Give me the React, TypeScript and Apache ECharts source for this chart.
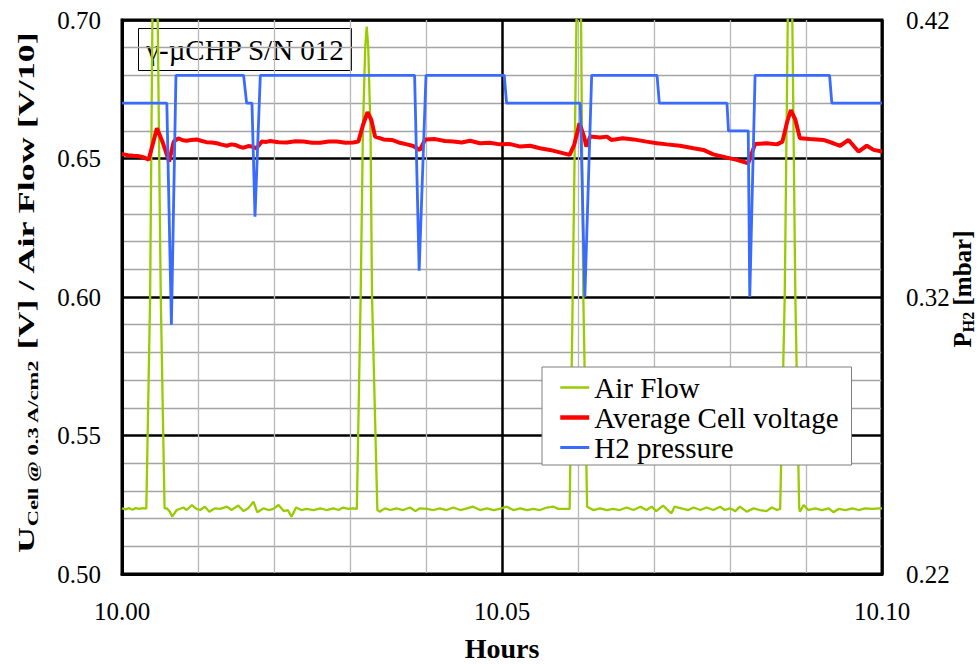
import React, { useEffect, useRef } from "react";
import * as echarts from "echarts";

// Time axis (hours) and the two value axes
const hourRange = [10.0, 10.1];
const hourStep = 0.05;
const voltRange = [0.5, 0.7];
const voltStep = 0.05;
const pressureRange = [0.22, 0.42];
const pressureStep = 0.02;
const pressureLabels = [0.22, 0.32, 0.42];

const seriesNames = ["Air Flow", "Average Cell voltage", "H2 pressure"];
const seriesColors = ["#99cc00", "#ff0000", "#3a6bff"];
const seriesWidths = [2.3, 4, 2.8];

// Air flow [V/10], left axis
const airFlow: [number, number][] = [
  [10.0, 0.5237], [10.0005, 0.5233], [10.0009, 0.5238], [10.0014, 0.5232], [10.0018, 0.5238],
  [10.0023, 0.5235], [10.0027, 0.5238], [10.0032, 0.5236],
  [10.0037, 0.6], [10.004, 0.7], [10.0043, 0.72], [10.0047, 0.7], [10.0051, 0.6], [10.0056, 0.5237],
  [10.0059, 0.5237], [10.0063, 0.5225], [10.0066, 0.5207], [10.0072, 0.5231], [10.0081, 0.524],
  [10.0085, 0.5231], [10.0092, 0.5249], [10.0098, 0.5235], [10.0103, 0.5231], [10.0109, 0.5243],
  [10.0115, 0.5225], [10.0122, 0.5237], [10.0129, 0.5235], [10.0138, 0.5243], [10.0144, 0.5231],
  [10.0153, 0.5247], [10.016, 0.5227], [10.0166, 0.5237], [10.0173, 0.5261], [10.0178, 0.5223],
  [10.0186, 0.5237], [10.0193, 0.5231], [10.0199, 0.5235], [10.0206, 0.5249], [10.0213, 0.5227],
  [10.0218, 0.5231], [10.0223, 0.5207], [10.0229, 0.524], [10.0236, 0.5231], [10.0243, 0.5235],
  [10.0252, 0.5231], [10.0261, 0.5237], [10.0269, 0.5231], [10.0278, 0.5237], [10.0285, 0.5231],
  [10.0291, 0.524], [10.0298, 0.5235], [10.0304, 0.5237], [10.0309, 0.5235],
  [10.0314, 0.6], [10.0317, 0.66], [10.032, 0.69], [10.0322, 0.6976], [10.0324, 0.69],
  [10.0327, 0.66], [10.0329, 0.6], [10.0336, 0.5231],
  [10.0339, 0.5225], [10.0346, 0.5237], [10.0353, 0.5231], [10.0361, 0.5237], [10.037, 0.5231],
  [10.0379, 0.524], [10.0386, 0.5227], [10.0392, 0.5237], [10.0401, 0.5235], [10.041, 0.5231],
  [10.0418, 0.5237], [10.0427, 0.5231], [10.0436, 0.524], [10.0445, 0.5231], [10.0454, 0.5237],
  [10.0462, 0.5243], [10.0471, 0.5231], [10.048, 0.5237], [10.0489, 0.5231], [10.0497, 0.5235],
  [10.0506, 0.5243], [10.0515, 0.5231], [10.0524, 0.5237], [10.0533, 0.5231], [10.0541, 0.5235],
  [10.055, 0.5231], [10.0559, 0.524], [10.0568, 0.5243], [10.0574, 0.5235], [10.0583, 0.5235],
  [10.0589, 0.5235],
  [10.0593, 0.6], [10.0598, 0.7], [10.0601, 0.715], [10.0604, 0.7], [10.0607, 0.6], [10.0612, 0.5243],
  [10.062, 0.5231], [10.0629, 0.5237], [10.0638, 0.5231], [10.0646, 0.5235], [10.0655, 0.5231],
  [10.0664, 0.524], [10.0673, 0.5231], [10.0682, 0.5243], [10.069, 0.5231], [10.0697, 0.5243],
  [10.0703, 0.5227], [10.0712, 0.5247], [10.0718, 0.5231], [10.0723, 0.5219], [10.0727, 0.5243],
  [10.0736, 0.5237], [10.0745, 0.5231], [10.0752, 0.524], [10.0761, 0.5231], [10.0769, 0.524],
  [10.0778, 0.5231], [10.0787, 0.5243], [10.0793, 0.5231], [10.08, 0.5237], [10.0807, 0.5227],
  [10.0813, 0.5243], [10.0822, 0.5225], [10.0831, 0.5237], [10.0839, 0.5231], [10.0848, 0.5227],
  [10.0855, 0.524], [10.0862, 0.5231], [10.0866, 0.5235],
  [10.0872, 0.6], [10.0876, 0.7], [10.0879, 0.72], [10.0882, 0.7], [10.0886, 0.6], [10.0891, 0.524],
  [10.0892, 0.5225], [10.0897, 0.5249], [10.0903, 0.5231], [10.0912, 0.5237], [10.0921, 0.5231],
  [10.093, 0.5237], [10.0936, 0.5223], [10.0943, 0.5235], [10.0952, 0.5231], [10.0961, 0.5237],
  [10.0969, 0.5231], [10.0978, 0.5237], [10.0987, 0.5235], [10.0997, 0.5237], [10.1, 0.5237],
];

// Average cell voltage [V], left axis
const cellVoltage: [number, number][] = [
  [10.0, 0.6515], [10.0002, 0.6515], [10.0008, 0.6512], [10.0015, 0.651], [10.002, 0.6509],
  [10.0024, 0.6507], [10.003, 0.6503], [10.0035, 0.6495], [10.0046, 0.6609], [10.0054, 0.6555],
  [10.0062, 0.6489], [10.0068, 0.6561], [10.0074, 0.6573], [10.008, 0.6566], [10.0085, 0.6564],
  [10.0091, 0.6567], [10.0098, 0.6569], [10.0104, 0.6564], [10.0111, 0.6559], [10.0118, 0.6558],
  [10.0125, 0.6555], [10.0131, 0.655], [10.0138, 0.6546], [10.0144, 0.6551], [10.0149, 0.6549],
  [10.0155, 0.6542], [10.016, 0.6539], [10.0166, 0.6545], [10.0171, 0.6543], [10.0177, 0.6537],
  [10.0184, 0.6561], [10.019, 0.656], [10.0195, 0.6563], [10.0206, 0.6559], [10.0217, 0.6558],
  [10.0228, 0.6562], [10.0239, 0.6561], [10.025, 0.6557], [10.0261, 0.6557], [10.0272, 0.6561],
  [10.0283, 0.6561], [10.0294, 0.6557], [10.0304, 0.6558], [10.0311, 0.6561], [10.0317, 0.662],
  [10.0323, 0.6667], [10.0328, 0.664], [10.0333, 0.6579], [10.0344, 0.6569], [10.0355, 0.6567],
  [10.0364, 0.6558], [10.0375, 0.6551], [10.0383, 0.6545], [10.0392, 0.6531], [10.0399, 0.6569],
  [10.0412, 0.657], [10.0425, 0.6563], [10.0436, 0.6561], [10.0447, 0.6558], [10.0458, 0.6564],
  [10.0471, 0.6555], [10.0484, 0.6557], [10.0497, 0.6551], [10.0511, 0.6552], [10.0524, 0.6543],
  [10.0537, 0.6546], [10.055, 0.6537], [10.0563, 0.6531], [10.0576, 0.6522], [10.0589, 0.6513],
  [10.0595, 0.6549], [10.0602, 0.6627], [10.0608, 0.6579], [10.0611, 0.6543], [10.0616, 0.6579],
  [10.0629, 0.6576], [10.0638, 0.6579], [10.0644, 0.6567], [10.0659, 0.6573], [10.0673, 0.6569],
  [10.069, 0.6561], [10.0704, 0.6555], [10.0717, 0.6551], [10.0734, 0.6546], [10.0752, 0.6537],
  [10.0765, 0.6531], [10.0778, 0.6515], [10.0796, 0.6503], [10.0809, 0.6495], [10.0824, 0.6483],
  [10.0833, 0.6552], [10.0848, 0.6555], [10.0862, 0.6551], [10.0869, 0.6561], [10.0875, 0.663],
  [10.088, 0.6675], [10.0886, 0.664], [10.0892, 0.6573], [10.0905, 0.657], [10.0923, 0.6567],
  [10.0936, 0.6555], [10.0945, 0.6546], [10.0956, 0.6567], [10.0969, 0.6525], [10.098, 0.6546],
  [10.0989, 0.6531], [10.1, 0.6525],
];

// H2 pressure [mbar], right axis
const h2Pressure: [number, number][] = [
  [10.0, 0.39], [10.0059, 0.39], [10.0065, 0.31], [10.0071, 0.4],
  [10.016, 0.4], [10.0164, 0.39], [10.0171, 0.39], [10.0175, 0.349], [10.0182, 0.4],
  [10.0385, 0.4], [10.0391, 0.3295], [10.04, 0.4],
  [10.0503, 0.4], [10.0506, 0.39], [10.0603, 0.39], [10.0609, 0.32], [10.0618, 0.4],
  [10.0704, 0.4], [10.0707, 0.39], [10.0796, 0.39], [10.0798, 0.38], [10.0824, 0.38],
  [10.0826, 0.32], [10.0833, 0.4], [10.0931, 0.4], [10.0934, 0.39], [10.1, 0.39],
];

const serif = "Liberation Serif";

export default function App() {
  const ref = useRef<HTMLDivElement>(null);

  useEffect(() => {
    if (!ref.current) return;
    const chart = echarts.init(ref.current, undefined, { renderer: "svg" });

    const majorLine = { show: true, lineStyle: { color: "#000", width: 2.5 } };
    const seriesData = [airFlow, cellVoltage, h2Pressure];
    const legendWidths = [2.5, 4.5, 3];

    chart.setOption({
      animation: false,
      backgroundColor: "#fff",
      textStyle: { fontFamily: serif },
      grid: {
        left: 122,
        top: 20,
        width: 760,
        height: 554,
        show: true,
        borderColor: "#000",
        borderWidth: 3,
        backgroundColor: "transparent",
      },
      xAxis: {
        type: "value",
        min: hourRange[0],
        max: hourRange[1],
        interval: hourStep,
        axisLine: { show: true, lineStyle: { color: "#000", width: 3 } },
        axisTick: { show: false },
        minorTick: { show: false, splitNumber: 5 },
        splitLine: majorLine,
        minorSplitLine: { show: true, lineStyle: { color: "#b8b8b8", width: 1.3 } },
        axisLabel: {
          margin: 25,
          color: "#000",
          fontSize: 25,
          fontFamily: serif,
          formatter: (v: number) => v.toFixed(2),
        },
      },
      yAxis: [
        {
          type: "value",
          min: voltRange[0],
          max: voltRange[1],
          interval: voltStep,
          axisLine: { show: true, lineStyle: { color: "#000", width: 3 } },
          axisTick: { show: false },
          minorTick: { show: false, splitNumber: 5 },
          splitLine: majorLine,
          minorSplitLine: { show: true, lineStyle: { color: "#a4a4a4", width: 1.3 } },
          axisLabel: {
            margin: 21,
            color: "#000",
            fontSize: 25,
            fontFamily: serif,
            formatter: (v: number) => v.toFixed(2),
          },
        },
        {
          type: "value",
          position: "right",
          min: pressureRange[0],
          max: pressureRange[1],
          interval: pressureStep,
          axisLine: { show: false },
          axisTick: { show: false },
          splitLine: { show: false },
          axisLabel: {
            margin: 24,
            color: "#000",
            fontSize: 25,
            fontFamily: serif,
            formatter: (v: number) =>
              pressureLabels.some((p) => Math.abs(p - v) < 1e-6) ? v.toFixed(2) : "",
          },
        },
      ],
      legend: {
        orient: "vertical",
        left: 542,
        top: 367,
        data: seriesNames.map((name, i) => ({
          name,
          lineStyle: { width: legendWidths[i], color: seriesColors[i] },
        })),
        backgroundColor: "#fff",
        borderColor: "#7f7f7f",
        borderWidth: 1,
        borderRadius: 0,
        padding: [6, 13, 3, 16],
        itemGap: 1,
        itemWidth: 29,
        itemHeight: 14,
        itemStyle: { opacity: 0 },
        textStyle: { color: "#000", fontSize: 29, fontFamily: serif, lineHeight: 26 },
      },
      graphic: [
        {
          type: "group",
          left: 138,
          top: 28,
          children: [
            {
              type: "rect",
              shape: { x: 0.5, y: 0.5, width: 213, height: 42 },
              style: { fill: "#fff", stroke: "#000", lineWidth: 1 },
            },
            {
              type: "text",
              x: 107,
              y: 22,
              style: {
                text: "γ-µCHP S/N 012",
                fill: "#000",
                fontSize: 29,
                fontFamily: serif,
                align: "center",
                verticalAlign: "middle",
              },
            },
          ],
        },
        {
          type: "text",
          x: 502,
          y: 648,
          style: {
            text: "Hours",
            fill: "#000",
            fontSize: 28,
            fontWeight: "bold",
            fontFamily: serif,
            align: "center",
            verticalAlign: "middle",
          },
        },
        {
          type: "text",
          x: 26,
          y: 292,
          rotation: Math.PI / 2,
          scaleX: 1.5,
          style: {
            text: "{b|U}{s|Cell @ 0.3 A/cm2}{b| [V] / Air Flow [V/10]}",
            fill: "#000",
            align: "center",
            verticalAlign: "middle",
            rich: {
              b: { fontSize: 24, fontWeight: "bold", fontFamily: serif, lineHeight: 28, fill: "#000" },
              s: { fontSize: 15, fontWeight: "bold", fontFamily: serif, lineHeight: 17, verticalAlign: "bottom", fill: "#000" },
            },
          },
        },
        {
          type: "text",
          x: 962,
          y: 289,
          rotation: Math.PI / 2,
          style: {
            text: "{b|P}{s|H2}{b| [mbar]}",
            fill: "#000",
            align: "center",
            verticalAlign: "middle",
            rich: {
              b: { fontSize: 25, fontWeight: "bold", fontFamily: serif, lineHeight: 28, fill: "#000" },
              s: { fontSize: 16, fontWeight: "bold", fontFamily: serif, lineHeight: 17, verticalAlign: "bottom", fill: "#000" },
            },
          },
        },
      ],
      series: seriesNames.map((name, i) => ({
        name,
        type: "line",
        data: seriesData[i],
        yAxisIndex: i === 2 ? 1 : 0,
        symbol: "none",
        lineStyle: { color: seriesColors[i], width: seriesWidths[i] },
        itemStyle: { color: seriesColors[i] },
      })),
    });

    return () => chart.dispose();
  }, []);

  return (
    <div
      ref={ref}
      style={{ position: "fixed", left: 0, top: 0, width: 980, height: 664, background: "#fff" }}
    />
  );
}
